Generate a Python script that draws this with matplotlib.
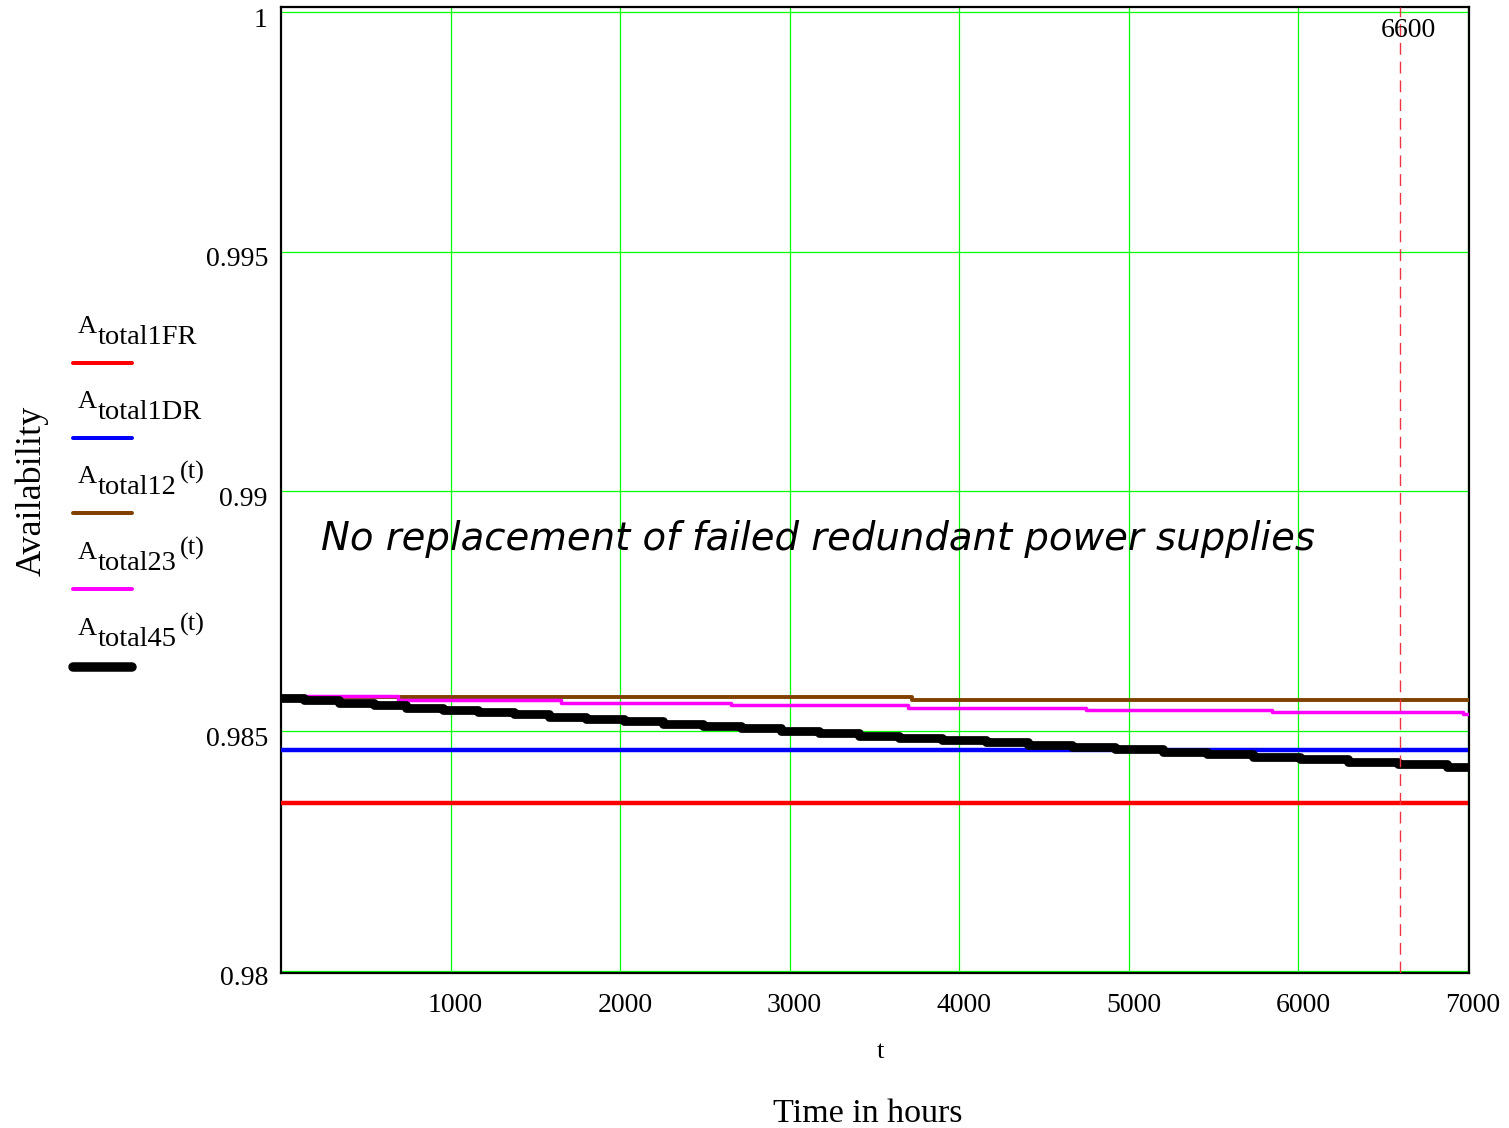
import matplotlib
matplotlib.use("Agg")
import matplotlib.pyplot as plt
import matplotlib.transforms as mtransforms
from matplotlib.lines import Line2D

# Tilgjengelighet over tid, trinnverdier lest av kurvene
t_slutt = 7000  # siste tidspunkt i timer

timer_45 = [0, 134, 340, 547, 735, 954, 1160, 1372, 1579, 1797, 2021, 2251, 2487, 2711, 2947,
            3171, 3407, 3643, 3902, 4156, 4404, 4669, 4922, 5200, 5465, 5736, 6013, 6296, 6591, 6880]
A_total45 = [0.985698, 0.985642, 0.985594, 0.985545, 0.985489, 0.985440, 0.985398, 0.985356,
             0.985301, 0.985259, 0.985210, 0.985154, 0.985105, 0.985056, 0.985008, 0.984959,
             0.984903, 0.984861, 0.984812, 0.984764, 0.984715, 0.984666, 0.984617, 0.984568,
             0.984513, 0.984460, 0.984408, 0.984356, 0.984303, 0.984255]

timer_23 = [0, 688, 1649, 2652, 3696, 4746, 5848, 6975]
A_total23 = [0.985732, 0.985649, 0.985594, 0.985538, 0.985489, 0.985447, 0.985398, 0.985349]

timer_12 = [0, 3725]
A_total12 = [0.985715, 0.985646]

A_total1FR = 0.983508
A_total1DR = 0.984600

markert_tid = 6600

x_ticks = [1000, 2000, 3000, 4000, 5000, 6000, 7000]
y_ticks = [0.98, 0.985, 0.99, 0.995, 1.0]
y_ticklabels = ["0.98", "0.985", "0.99", "0.995", "1"]

W, H = 1509, 1128


def fx(x):
    return x / W


def fy(y):
    return 1 - y / H


serif = "Liberation Serif"

fig = plt.figure(figsize=(W / 100, H / 100), dpi=100)
ax = fig.add_axes([fx(281), fy(973), fx(1469) - fx(281), fy(7) - fy(973)])

ax.set_xlim(0, 7008)
ax.set_ylim(0.979952, 1.000105)


def trapp(timer, verdier):
    return list(timer) + [t_slutt], list(verdier) + [verdier[-1]]


ax.plot([0, t_slutt], [A_total1FR, A_total1FR], color="#ff0000", lw=3.2, solid_capstyle="butt", zorder=3)
ax.plot([0, t_slutt], [A_total1DR, A_total1DR], color="#0000ff", lw=3.2, solid_capstyle="butt", zorder=4)
x, y = trapp(timer_12, A_total12)
ax.plot(x, y, drawstyle="steps-post", color="#804000", lw=2.8, zorder=5)
x, y = trapp(timer_23, A_total23)
ax.plot(x, y, drawstyle="steps-post", color="#ff00ff", lw=2.5, zorder=6)
x, y = trapp(timer_45, A_total45)
ax.plot(x, y, drawstyle="steps-post", color="#000000", lw=6.3, zorder=7)

ax.axvline(markert_tid, color="#ee3344", lw=1, dashes=(8.5, 5), zorder=8)

# rutenett og akser
ax.set_xticks(x_ticks)
ax.set_yticks(y_ticks)
ax.set_yticklabels(y_ticklabels)
ax.grid(True, color="#00ff00", lw=0.9)
ax.set_axisbelow(True)
ax.tick_params(length=0, labelsize=20)
ax.tick_params(axis="x", pad=13)
ax.tick_params(axis="y", pad=9.4)
for lab in ax.get_xticklabels() + ax.get_yticklabels():
    lab.set_fontfamily(serif)
forskyv_x = mtransforms.ScaledTranslation(5 / 100, -2 / 100, fig.dpi_scale_trans)
for lab in ax.get_xticklabels():
    lab.set_transform(lab.get_transform() + forskyv_x)
forskyv_y = mtransforms.ScaledTranslation(0, -5 / 100, fig.dpi_scale_trans)
for lab in ax.get_yticklabels():
    lab.set_transform(lab.get_transform() + forskyv_y)
for s in ax.spines.values():
    s.set_linewidth(1.6)
    s.set_color("black")

fig.text(fx(1408), fy(37), str(markert_tid), ha="center", va="baseline", family=serif, size=20)

fig.text(fx(321), fy(550), "No replacement of failed redundant power supplies",
         family="DejaVu Sans", style="italic", size=27.8, va="baseline", ha="left")

fig.text(fx(880), fy(1058), "t", ha="center", va="baseline", family=serif, size=19)
fig.text(fx(868), fy(1122), "Time in hours", ha="center", va="baseline", family=serif, size=24.5)
fig.text(fx(32), fy(491), "Availability", rotation=90, ha="center", va="center", family=serif, size=26)

# forklaring til venstre
forklaring = [
    ("total1FR", "", "#ff0000", 4.0, 333),
    ("total1DR", "", "#0000ff", 4.0, 408),
    ("total12", "(t)", "#804000", 4.0, 483),
    ("total23", "(t)", "#ff00ff", 4.0, 559),
    ("total45", "(t)", "#000000", 9.5, 635),
]
for sub, sup, farge, bredde, base in forklaring:
    fig.text(fx(78), fy(base), "A", family=serif, size=19, va="baseline", ha="left")
    fig.text(fx(98), fy(base + 11), sub, family=serif, size=20.5, va="baseline", ha="left")
    if sup:
        fig.text(fx(180), fy(base - 4), sup, family=serif, size=19, va="baseline", ha="left")
    fig.add_artist(Line2D([fx(73), fx(132)], [fy(base + 29 + bredde / 3), fy(base + 29 + bredde / 3)],
                          color=farge, lw=bredde * 0.72, solid_capstyle="round",
                          transform=fig.transFigure))

fig.savefig("out.png", dpi=100)
